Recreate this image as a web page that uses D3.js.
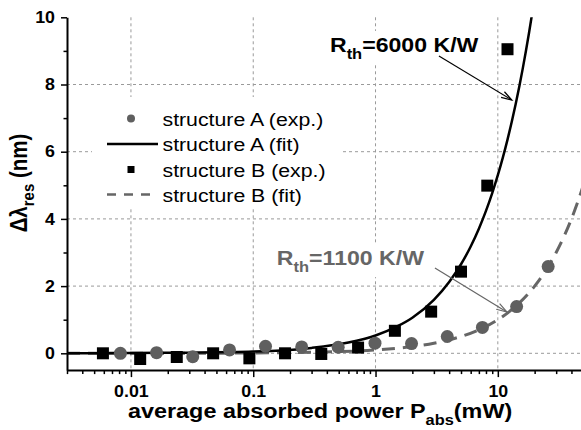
<!DOCTYPE html>
<html>
<head>
<meta charset="utf-8">
<script src="https://cdn.jsdelivr.net/npm/d3@7"></script>
<style>
  body { margin: 0; background: #fff; }
  svg { display: block; font-family: "Liberation Sans", Arial, sans-serif; }
</style>
</head>
<body>
<script>
var width = 581,
    height = 430;

// structure B (exp.) -- black squares
var sqP = [0.0059, 0.0119, 0.0237, 0.047, 0.093, 0.182, 0.36, 0.72, 1.44, 2.85, 5.0, 8.2, 12.0];
var sqY = [0.0, -0.17, -0.11, 0.0, -0.15, 0.0, -0.02, 0.17, 0.67, 1.24, 2.43, 4.99, 9.05];

// structure A (exp.) -- grey circles
var circP = [0.0082, 0.0162, 0.032, 0.064, 0.126, 0.249, 0.495, 0.99, 1.97, 3.86, 7.48, 14.25, 25.8];
var circY = [0.0, 0.02, -0.1, 0.1, 0.21, 0.19, 0.18, 0.3, 0.29, 0.5, 0.77, 1.39, 2.58];

// solid fit curve
var fitAP = [0.003, 0.01, 0.03, 0.1, 0.3, 0.6, 1, 1.5, 2, 3, 4, 5, 6, 7, 8, 9, 10, 11, 12, 13, 14, 15, 16, 17, 18, 19];
var fitAY = [0.0, 0.01, 0.02, 0.05, 0.16, 0.32, 0.53, 0.80, 1.06, 1.59, 2.12, 2.65, 3.18, 3.71, 4.24, 4.77, 5.30, 5.83, 6.36, 6.89, 7.42, 7.95, 8.48, 9.01, 9.54, 10.07];

// dashed fit curve
var fitBP = [0.003, 0.01, 0.03, 0.1, 0.3, 1, 2, 3, 5, 7, 10, 15, 20, 25, 30, 35, 40, 45, 50];
var fitBY = [0.0, 0.0, 0.0, 0.01, 0.03, 0.1, 0.2, 0.3, 0.5, 0.7, 1.0, 1.5, 2.0, 2.5, 3.0, 3.5, 4.0, 4.5, 5.0];

var xTicks = [0.01, 0.1, 1, 10];
var xTickLabels = ["0.01", "0.1", "1", "10"];
var yTicks = [0, 2, 4, 6, 8, 10];
var yMinor = [1, 3, 5, 7, 9];
var yGrid = [0, 2, 4, 6, 8];

var legendLabels = ["structure A (exp.)", "structure A (fit)", "structure B (exp.)", "structure B (fit)"];

var grey = "#5f5f5f";
var sx = 1.08;

var x = d3.scaleLog().domain([0.003, 50]).range([67, 583.3]);
var y = d3.scaleLinear().domain([-0.5, 10]).range([370.1, 17.3]);

var xMinor = [];
[0.001, 0.01, 0.1, 1, 10].forEach(function(d) {
  for (var k = 2; k <= 9; k++) {
    var v = +(d * k).toPrecision(3);
    if (v >= 0.003 && v <= 50) xMinor.push(v);
  }
});

var svg = d3.select("body").append("svg")
    .attr("width", width)
    .attr("height", height);

svg.append("rect").attr("width", width).attr("height", height).attr("fill", "#fff");

svg.append("defs").append("clipPath").attr("id", "plot")
  .append("rect")
    .attr("x", x.range()[0]).attr("y", y(10))
    .attr("width", width - x.range()[0]).attr("height", y(-0.5) - y(10));

// grid
var grid = svg.append("g")
    .attr("stroke", "#9a9a9a")
    .attr("stroke-width", 1)
    .attr("stroke-dasharray", "3,3");

grid.selectAll("line.v").data(xTicks).join("line")
    .attr("class", "v")
    .attr("x1", d => x(d)).attr("x2", d => x(d))
    .attr("y1", y(10)).attr("y2", y(-0.5));

grid.selectAll("line.h").data(yGrid).join("line")
    .attr("class", "h")
    .attr("x1", x.range()[0]).attr("x2", width)
    .attr("y1", d => y(d)).attr("y2", d => y(d));

// white boxes behind legend and labels
var masks = svg.append("g");

// curves
var plot = svg.append("g").attr("clip-path", "url(#plot)");

var line = d3.line()
    .x(d => x(d[0]))
    .y(d => y(d[1]))
    .curve(d3.curveMonotoneX);

plot.append("path")
    .datum(fitBP.map((p, i) => [p, fitBY[i]]))
    .attr("d", line)
    .attr("fill", "none")
    .attr("stroke", "#666")
    .attr("stroke-width", 3)
    .attr("stroke-dasharray", "13,8");

plot.append("path")
    .datum(fitAP.map((p, i) => [p, fitAY[i]]))
    .attr("d", line)
    .attr("fill", "none")
    .attr("stroke", "#000")
    .attr("stroke-width", 2.5);

plot.selectAll("circle.a").data(circP.map((p, i) => [p, circY[i]])).join("circle")
    .attr("class", "a")
    .attr("cx", d => x(d[0]))
    .attr("cy", d => y(d[1]))
    .attr("r", 6.5)
    .attr("fill", grey);

plot.selectAll("rect.b").data(sqP.map((p, i) => [p, sqY[i]])).join("rect")
    .attr("class", "b")
    .attr("x", d => x(d[0]) - 6)
    .attr("y", d => y(d[1]) - 6)
    .attr("width", 12)
    .attr("height", 12)
    .attr("fill", "#000");

// axes
var xAxis = svg.append("g")
    .attr("transform", "translate(0," + y(-0.5) + ")")
    .call(d3.axisBottom(x).tickValues(xTicks).tickFormat((d, i) => xTickLabels[i])
      .tickSize(7).tickSizeOuter(0).tickPadding(8));

svg.append("g")
    .attr("transform", "translate(0," + y(-0.5) + ")")
    .call(d3.axisBottom(x).tickValues(xMinor).tickFormat("").tickSize(4).tickSizeOuter(0))
    .call(g => g.select(".domain").remove());

var yAxis = svg.append("g")
    .attr("transform", "translate(" + x.range()[0] + ",0)")
    .call(d3.axisLeft(y).tickValues(yTicks).tickSize(6).tickSizeOuter(0).tickPadding(6));

svg.append("g")
    .attr("transform", "translate(" + x.range()[0] + ",0)")
    .call(d3.axisLeft(y).tickValues(yMinor).tickFormat("").tickSize(3.5).tickSizeOuter(0))
    .call(g => g.select(".domain").remove());

svg.selectAll(".domain").attr("stroke", "#000").attr("stroke-width", 2);
svg.selectAll(".tick line").attr("stroke", "#000").attr("stroke-width", 1.5);

xAxis.selectAll("text")
    .attr("font-family", "Liberation Sans, Arial, sans-serif")
    .attr("font-size", 16.5).attr("font-weight", "bold").attr("fill", "#000")
    .attr("transform", "scale(" + sx + ",1)");

yAxis.selectAll("text")
    .attr("font-family", "Liberation Sans, Arial, sans-serif")
    .attr("font-size", 16.5).attr("font-weight", "bold").attr("fill", "#000")
    .attr("x", -12 / sx)
    .attr("transform", "scale(" + sx + ",1)");

// axis titles
var xt = svg.append("text")
    .attr("transform", "translate(128,418) scale(1.17,1)")
    .attr("font-size", 20).attr("font-weight", "bold");
xt.append("tspan").text("average absorbed power P");
xt.append("tspan").attr("font-size", 14).attr("dy", 7).text("abs");
xt.append("tspan").attr("dy", -7).text("(mW)");

var yt = svg.append("text")
    .attr("transform", "translate(27,183) rotate(-90) scale(1,1.15)")
    .attr("text-anchor", "middle")
    .attr("font-size", 20.5).attr("font-weight", "bold");
yt.append("tspan").text("\u0394\u03bb");
yt.append("tspan").attr("font-size", 15).attr("dy", 6).text("res");
yt.append("tspan").attr("dy", -6).text(" (nm)");

// legend
var rowY = [118.5, 144, 169.5, 194.5];
var leg = svg.append("g");
legendLabels.forEach(function(lab, i) {
  var g = leg.append("g").attr("transform", "translate(0," + rowY[i] + ")");
  if (i === 0) g.append("circle").attr("cx", 131).attr("r", 4).attr("fill", grey);
  if (i === 1) g.append("line").attr("x1", 107).attr("x2", 158).attr("stroke", "#000").attr("stroke-width", 2.5);
  if (i === 2) g.append("rect").attr("x", 127.5).attr("y", -3.5).attr("width", 7).attr("height", 7).attr("fill", "#000");
  if (i === 3) g.append("line").attr("x1", 107).attr("x2", 158).attr("stroke", "#666")
      .attr("stroke-width", 2.5).attr("stroke-dasharray", "9,8");
  g.append("text")
      .attr("transform", "translate(162.5,7) scale(1.12,1)")
      .attr("font-size", 19)
      .text(lab);
});
masks.append("rect").attr("x", 92).attr("y", 97).attr("width", 249).attr("height", 110).attr("fill", "#fff");

// annotations
function rthLabel(p, v, txt, col) {
  var t = svg.append("text")
      .attr("transform", "translate(" + x(p) + "," + y(v) + ") scale(1.1,1)")
      .attr("font-size", 21).attr("font-weight", "bold").attr("fill", col);
  t.append("tspan").text("R");
  t.append("tspan").attr("font-size", 15).attr("dy", 7).text("th");
  t.append("tspan").attr("dy", -7).text(txt);
  var b = t.node().getBBox();
  masks.append("rect")
      .attr("x", x(p) - 3).attr("y", y(v) + b.y - 2)
      .attr("width", b.width * 1.1 + 6).attr("height", b.height + 4)
      .attr("fill", "#fff");
}
rthLabel(0.424, 8.97, "=6000 K/W", "#000");
rthLabel(0.156, 2.62, "=1100 K/W", "#666");

function arrow(p0, v0, p1, v1, col) {
  var x0 = x(p0), y0 = y(v0), x1 = x(p1), y1 = y(v1);
  var a = Math.atan2(y1 - y0, x1 - x0), L = 11, w = 0.3;
  svg.append("line").attr("x1", x0).attr("y1", y0).attr("x2", x1).attr("y2", y1)
      .attr("stroke", col).attr("stroke-width", 1.2);
  svg.append("path")
      .attr("d", "M" + (x1 - L * Math.cos(a - w)) + "," + (y1 - L * Math.sin(a - w)) +
                 "L" + x1 + "," + y1 +
                 "L" + (x1 - L * Math.cos(a + w)) + "," + (y1 - L * Math.sin(a + w)))
      .attr("fill", "none").attr("stroke", col).attr("stroke-width", 1.2);
}
arrow(3.30, 8.85, 13.0, 7.54, "#000");
arrow(3.06, 2.54, 11.86, 1.23, "#666");
</script>
</body>
</html>
